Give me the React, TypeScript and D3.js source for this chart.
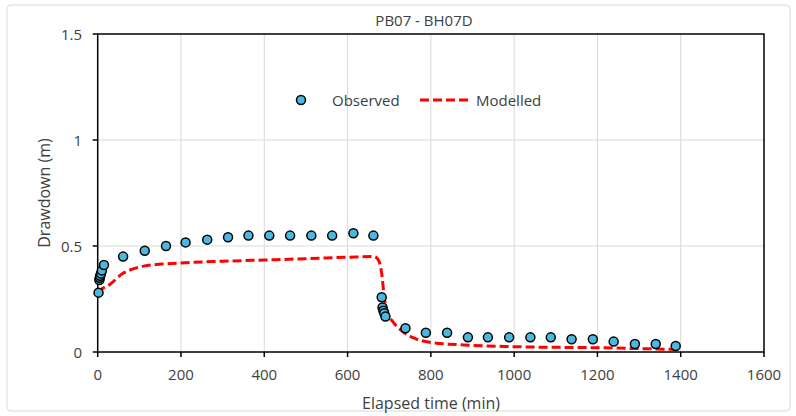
import React from "react";
import * as d3 from "d3";

const title = "PB07 - BH07D";
const xTicks = [0, 200, 400, 600, 800, 1000, 1200, 1400, 1600];
const yTicks = [0, 0.5, 1, 1.5];

const obsT = [2, 4, 5, 6, 8, 10, 15, 61, 113, 164, 211, 263, 313, 362, 412, 462, 513, 563, 614, 662, 682, 684, 686, 688, 691, 739, 788, 839, 889, 937, 988, 1039, 1088, 1138, 1189, 1239, 1290, 1340, 1388];
const obsY = [0.28, 0.34, 0.35, 0.36, 0.37, 0.385, 0.41, 0.45, 0.478, 0.5, 0.517, 0.53, 0.541, 0.549, 0.549, 0.549, 0.549, 0.549, 0.56, 0.549, 0.258, 0.21, 0.195, 0.183, 0.167, 0.112, 0.091, 0.091, 0.069, 0.069, 0.069, 0.069, 0.069, 0.06, 0.06, 0.049, 0.038, 0.038, 0.028];

const modelT = [0, 5, 30, 60, 90, 110, 200, 300, 400, 500, 600, 665, 675, 682, 688, 695, 710, 730, 760, 800, 880, 1000, 1200, 1390];
const modelY = [0.28, 0.29, 0.32, 0.37, 0.395, 0.405, 0.42, 0.428, 0.434, 0.44, 0.447, 0.45, 0.43, 0.37, 0.26, 0.19, 0.14, 0.1, 0.065, 0.045, 0.033, 0.025, 0.02, 0.012];

const W = 796;
const H = 416;
const L = 97.7, R = 764, T = 34, B = 352;
const font = "'Open Sans', sans-serif";
const txt = "#404040";

export default function App() {
  const x = d3.scaleLinear().domain([0, 1600]).range([L, R]);
  const y = d3.scaleLinear().domain([0, 1.5]).range([B, T]);
  const line = d3
    .line<number>()
    .x((_, i) => x(modelT[i]))
    .y((d) => y(d))
    .curve(d3.curveMonotoneX);
  return (
    <svg width={W} height={H} style={{ position: "absolute", left: 0, top: 0, background: "#fff" }} fontFamily={font}>
      <rect x={7} y={5} width={783} height={406} rx={4} fill="#fff" stroke="#d9d9d9" strokeWidth={1} />
      {xTicks.slice(1, -1).map((t) => (
        <line key={"gx" + t} x1={x(t)} x2={x(t)} y1={T} y2={B} stroke="#d9d9d9" strokeWidth={1} />
      ))}
      {yTicks.slice(1, -1).map((t) => (
        <line key={"gy" + t} x1={L} x2={R} y1={y(t)} y2={y(t)} stroke="#d9d9d9" strokeWidth={1} />
      ))}
      <rect x={L} y={T} width={R - L} height={B - T} fill="none" stroke="#000" strokeWidth={1.5} />
      {xTicks.map((t) => (
        <g key={"xt" + t}>
          <line x1={x(t)} x2={x(t)} y1={B} y2={B + 5} stroke="#000" strokeWidth={1.5} />
          <text x={x(t)} y={374} textAnchor="middle" dominantBaseline="central" fontSize={15} fill={txt}>
            {t}
          </text>
        </g>
      ))}
      {yTicks.map((t) => (
        <g key={"yt" + t}>
          <line x1={L - 5} x2={L} y1={y(t)} y2={y(t)} stroke="#000" strokeWidth={1.5} />
          <text x={82} y={y(t)} textAnchor="end" dominantBaseline="central" fontSize={15} fill={txt}>
            {t}
          </text>
        </g>
      ))}
      <path d={line(modelY) || ""} fill="none" stroke="#ff0000" strokeWidth={3} strokeDasharray="9,4" />
      {obsY.map((v, i) => (
        <circle key={"o" + i} cx={x(obsT[i])} cy={y(v)} r={4.5} fill="#4bb8e0" stroke="#000" strokeWidth={1.5} />
      ))}
      <text x={424} y={20} textAnchor="middle" dominantBaseline="central" fontSize={15} fill={txt}>
        {title}
      </text>
      <circle cx={301} cy={100} r={4.5} fill="#4bb8e0" stroke="#000" strokeWidth={1.5} />
      <text x={332} y={100} dominantBaseline="central" fontSize={15} fill={txt}>Observed</text>
      <line x1={420} x2={472} y1={100} y2={100} stroke="#ff0000" strokeWidth={3} strokeDasharray="9,4" />
      <text x={476} y={100} dominantBaseline="central" fontSize={15} fill={txt}>Modelled</text>
      <text x={431} y={403} textAnchor="middle" dominantBaseline="central" fontSize={16} fill={txt}>
        Elapsed time (min)
      </text>
      <text transform="translate(44,193) rotate(-90)" textAnchor="middle" dominantBaseline="central" fontSize={16} fill={txt}>
        Drawdown (m)
      </text>
    </svg>
  );
}
